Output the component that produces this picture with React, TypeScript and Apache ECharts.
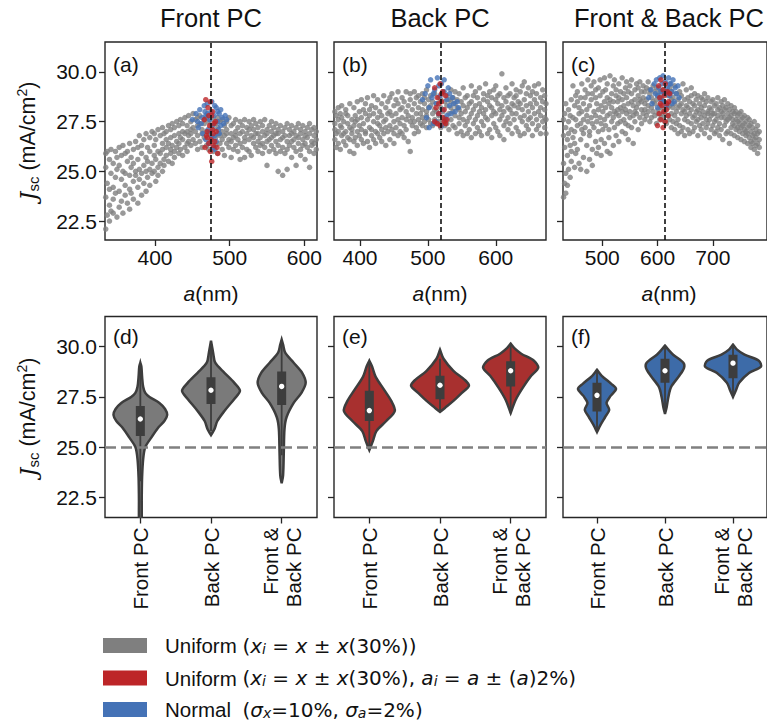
import React, { useEffect, useRef } from "react";
import * as echarts from "echarts";

// ---------------- data ----------------
const panelTitles = ["Front PC", "Back PC", "Front & Back PC"];
const panelLettersTop = ["(a)", "(b)", "(c)"];
const panelLettersBottom = ["(d)", "(e)", "(f)"];
const categories = ["Front PC", "Back PC", "Front &\nBack PC"];
const yTicks = [22.5, 25, 27.5, 30];
const xRanges = [
  [333, 617],
  [361.7, 674],
  [429, 798],
];
const xTicks = [
  [400, 500, 600],
  [400, 500, 600],
  [500, 600, 700, 800],
];
const designA = [475, 518.7, 613];
const thresholdJ = 25;

// gray scatter columns: [a, J, J, ...]
const grayA = [
  [334, 22.1, 23.7, 25.2, 25.9], [336, 22.8, 24.4, 26.0], [339, 23.3, 25.6, 24.1, 22.5],
  [341, 24.9, 23.0, 26.1], [344, 25.4, 22.9, 24.2, 23.6], [347, 26.0, 24.7, 23.9],
  [349, 22.7, 25.1, 25.7], [352, 24.0, 23.2, 26.2, 25.3], [355, 25.8, 24.6, 23.5],
  [357, 22.9, 25.0, 26.3], [360, 24.3, 25.9, 23.8, 24.9], [363, 25.5, 23.4, 26.0],
  [366, 24.1, 26.4, 24.8, 23.1], [368, 25.2, 23.9, 25.7], [371, 26.1, 24.5, 23.6, 25.4],
  [374, 24.8, 26.5, 25.0], [377, 23.4, 25.6, 24.2, 26.2], [379, 25.1, 26.8, 24.6],
  [382, 23.8, 25.9, 26.3, 24.9], [385, 26.6, 24.4, 25.3], [388, 25.7, 24.0, 26.9, 25.0],
  [390, 24.7, 26.2, 25.5], [393, 26.7, 25.1, 24.3, 26.0], [396, 25.4, 27.0, 24.9],
  [399, 26.3, 25.0, 25.8, 26.9], [401, 24.5, 26.6, 25.6], [404, 27.1, 25.2, 26.0, 24.8],
  [407, 25.9, 26.8, 25.4], [410, 26.4, 25.0, 27.2, 26.1], [412, 25.6, 26.9, 25.3],
  [415, 27.0, 26.2, 25.8, 26.6], [418, 25.5, 27.3, 26.4], [421, 26.7, 25.9, 26.1, 27.1],
  [423, 26.3, 25.4, 27.4], [426, 27.2, 26.0, 26.8, 25.7], [429, 26.5, 27.5, 26.2],
  [432, 25.9, 26.9, 27.3, 26.4], [434, 27.6, 26.1, 26.7], [437, 26.6, 27.4, 25.8, 27.0],
  [440, 26.2, 27.7, 26.9], [443, 27.3, 26.4, 27.0, 26.0], [445, 26.8, 27.8, 26.5],
  [448, 27.5, 26.3, 27.1, 26.9], [451, 26.6, 27.9, 27.2], [454, 27.0, 26.4, 27.6],
  [457, 27.7, 26.8, 27.3, 26.1], [460, 26.5, 27.4, 27.8], [463, 27.1, 26.2, 26.9],
  [466, 27.6, 26.7, 27.4], [469, 26.3, 27.0, 27.7], [472, 26.9, 26.1, 27.5],
  [475, 27.3, 26.5, 26.8], [478, 26.0, 27.6, 27.1], [481, 26.7, 27.4, 26.3],
  [484, 27.2, 25.9, 26.9, 27.7], [487, 26.4, 27.5, 26.8], [490, 27.0, 26.1, 27.6, 26.6],
  [493, 26.8, 27.3, 25.8], [496, 27.5, 26.4, 26.9, 27.1], [499, 26.2, 27.7, 26.6],
  [502, 26.9, 25.7, 27.3, 26.5], [505, 27.4, 26.7, 26.1], [508, 26.3, 27.0, 27.6, 26.8],
  [511, 27.2, 26.0, 26.6], [514, 25.6, 26.9, 27.5, 26.4], [517, 27.0, 26.2, 27.3],
  [520, 26.7, 27.6, 25.7, 26.5], [523, 26.1, 27.2, 26.9], [526, 27.5, 26.6, 26.0, 27.1],
  [529, 26.8, 25.8, 27.3], [532, 27.1, 26.4, 26.7, 27.6], [535, 26.2, 27.4, 26.9],
  [538, 26.9, 26.0, 27.2, 26.5], [541, 27.5, 26.7, 26.3], [544, 26.4, 27.0, 25.9, 27.3],
  [547, 26.8, 27.6, 26.2], [550, 27.1, 26.5, 25.3, 26.9], [553, 26.0, 27.3, 26.6],
  [556, 26.7, 27.5, 26.3, 27.0], [559, 27.2, 26.1, 26.8], [562, 26.5, 27.4, 25.9, 26.9],
  [565, 26.9, 26.3, 27.1, 25.0], [568, 27.3, 26.6, 26.0], [571, 26.2, 27.0, 26.7, 24.8],
  [574, 26.8, 25.9, 27.2], [577, 27.4, 26.5, 26.1, 25.1], [580, 26.3, 27.1, 26.8],
  [583, 26.9, 25.7, 27.3, 26.5], [586, 26.6, 27.0, 26.2], [589, 27.2, 25.3, 26.8, 26.0],
  [592, 26.4, 27.4, 26.7], [595, 26.1, 26.9, 27.1, 25.8], [598, 27.3, 26.6, 26.3],
  [601, 26.8, 25.6, 27.0, 26.4], [604, 26.2, 27.2, 26.7], [607, 26.9, 26.0, 27.4, 25.2],
  [610, 26.5, 27.1, 26.3], [613, 27.2, 25.9, 26.8, 26.4], [616, 26.1, 27.0, 26.6],
];
const blueA = [
  [455, 27.9], [450, 27.6], [460, 28.1], [462, 27.4], [466, 28.3], [468, 27.8], [470, 28.4],
  [471, 27.1], [473, 27.6], [475, 28.0], [476, 28.5], [477, 27.3], [479, 27.8], [480, 26.8],
  [482, 28.2], [484, 27.5], [486, 27.9], [488, 28.1], [490, 27.7], [492, 27.4], [494, 27.8],
  [496, 27.6], [458, 27.2], [464, 26.9], [468, 26.6], [472, 26.4], [478, 26.2], [482, 26.5],
  [486, 26.9], [474, 27.0], [470, 27.9], [467, 28.0], [480, 28.3], [484, 28.0], [488, 27.3],
  [463, 27.7], [457, 27.5], [476, 26.7], [480, 26.1], [485, 27.1],
];
const redA = [
  [468, 28.6], [471, 28.2], [474, 28.5], [466, 27.6], [476, 27.8], [479, 27.4], [470, 27.0],
  [473, 27.3], [477, 27.1], [481, 27.5], [469, 26.8], [475, 26.6], [478, 26.9], [472, 26.4],
  [467, 26.2], [480, 26.5], [474, 26.0], [483, 26.2], [476, 25.5], [470, 26.7], [478, 26.3],
  [482, 27.0], [484, 25.9], [472, 27.8], [477, 28.0],
];

const grayB = [
  [363, 27.4, 26.6, 28.0, 27.1], [365, 26.9, 27.8, 26.2], [368, 27.6, 26.4, 28.2, 27.0],
  [371, 26.1, 27.3, 27.9], [373, 27.7, 26.8, 27.2, 28.3], [376, 26.5, 27.5, 26.9],
  [379, 27.9, 27.0, 26.3, 28.1], [382, 26.7, 27.4, 27.8], [385, 27.2, 26.0, 28.4, 26.6],
  [388, 27.6, 26.9, 27.1], [391, 25.9, 27.3, 28.2, 26.5], [393, 27.8, 26.7, 27.5],
  [396, 26.3, 28.5, 27.0, 27.6], [399, 27.3, 26.8, 28.0], [402, 26.6, 27.7, 28.6, 27.1],
  [405, 28.1, 26.4, 27.4], [408, 27.0, 27.9, 26.9, 28.4], [411, 26.5, 27.6, 28.7],
  [414, 27.8, 26.2, 27.2, 28.1], [417, 27.1, 28.3, 26.8], [420, 26.6, 27.5, 28.8, 27.9],
  [423, 28.2, 27.0, 26.4], [426, 27.4, 28.6, 26.9, 27.7], [429, 26.7, 28.0, 27.3],
  [432, 28.4, 27.1, 26.5, 27.8], [435, 27.5, 28.8, 26.9], [438, 26.3, 27.6, 28.2, 27.2],
  [441, 28.5, 27.0, 27.9], [444, 27.3, 26.6, 28.7, 28.0], [447, 27.8, 28.9, 27.1],
  [450, 26.9, 28.3, 27.5, 26.4], [453, 28.6, 27.2, 27.9], [456, 27.6, 26.8, 28.4, 29.0],
  [459, 27.0, 28.1, 27.4], [462, 28.7, 27.7, 26.9, 28.2], [465, 27.3, 28.5, 26.7],
  [468, 28.0, 27.1, 29.0, 27.6], [471, 26.5, 28.3, 27.8], [474, 27.5, 26.0, 28.6, 28.9],
  [477, 28.1, 27.3, 27.7], [480, 26.9, 28.4, 27.5, 29.0], [483, 27.9, 28.7, 27.2],
  [486, 28.2, 27.0, 27.6, 28.8], [489, 27.4, 28.5, 27.9], [492, 28.9, 27.7, 28.1, 27.3],
  [495, 27.5, 28.4, 28.7], [498, 28.0, 27.2, 29.1, 27.8], [501, 27.6, 28.6, 28.2],
  [504, 28.3, 27.4, 28.8], [507, 27.9, 28.5, 27.3], [510, 28.1, 27.6, 28.9],
  [513, 27.4, 28.4, 28.0], [516, 28.7, 27.8, 27.5], [519, 27.2, 28.2, 28.6],
  [522, 28.0, 27.5, 29.0], [525, 27.7, 28.5, 27.3], [528, 28.3, 27.4, 28.8],
  [531, 27.1, 28.6, 27.9], [534, 28.2, 27.6, 29.1, 28.5], [537, 27.3, 28.0, 28.7],
  [540, 28.4, 27.2, 27.8, 29.0], [543, 26.9, 28.2, 28.6], [546, 27.7, 28.9, 27.4, 28.1],
  [549, 28.5, 27.0, 27.9], [552, 26.8, 28.3, 29.2, 27.6], [555, 28.0, 27.3, 28.7],
  [558, 27.5, 28.8, 26.9, 28.2], [561, 28.4, 27.1, 27.7], [564, 26.7, 27.9, 29.3, 28.5],
  [567, 28.1, 27.4, 28.8], [570, 27.6, 26.9, 28.3, 29.0], [573, 28.7, 27.8, 27.2],
  [576, 27.0, 28.4, 28.0, 29.2], [579, 28.2, 27.5, 26.8], [582, 28.9, 27.3, 28.6, 27.9],
  [585, 27.7, 29.4, 28.1], [588, 26.9, 28.5, 27.6, 28.8], [591, 28.3, 27.1, 29.0],
  [594, 27.8, 28.7, 26.7, 28.2], [597, 27.4, 29.1, 28.0], [600, 28.6, 27.2, 27.9, 29.3],
  [603, 27.0, 28.4, 28.8], [606, 28.1, 26.8, 27.6, 28.9], [609, 29.9, 27.8, 28.3],
  [612, 27.3, 28.7, 26.6, 28.0], [615, 28.5, 27.5, 29.2], [618, 27.1, 28.2, 28.8, 27.7],
  [621, 28.9, 27.4, 28.1], [624, 27.9, 26.9, 29.4, 28.4], [627, 28.3, 27.6, 28.7],
  [630, 27.2, 28.8, 27.9, 29.1], [633, 28.5, 27.0, 28.2], [636, 27.7, 29.0, 26.8, 28.4],
  [639, 28.1, 27.5, 29.3], [642, 26.9, 28.6, 27.8, 29.5], [645, 28.3, 27.3, 28.9],
  [648, 27.6, 29.2, 28.0, 27.1], [651, 28.8, 27.7, 28.4], [654, 27.4, 28.2, 26.8, 29.0],
  [657, 28.6, 27.9, 29.3], [660, 27.1, 28.4, 27.6, 28.9], [663, 28.0, 29.4, 27.3],
  [666, 27.8, 26.9, 28.7, 28.2], [669, 28.5, 27.5, 29.1], [672, 27.2, 28.1, 28.8, 27.7],
  [674, 28.4, 27.6, 26.9],
];
const blueB = [
  [492, 28.6], [496, 28.9], [498, 27.7], [500, 29.3], [502, 28.2], [504, 29.6], [506, 28.7],
  [508, 27.4], [510, 29.1], [512, 28.4], [514, 29.7], [516, 27.9], [518, 28.8], [520, 29.4],
  [522, 28.1], [524, 29.0], [526, 27.6], [528, 28.6], [530, 29.2], [532, 28.3], [534, 27.9],
  [536, 28.7], [538, 28.4], [540, 28.0], [543, 28.5], [545, 28.2], [502, 27.2], [512, 27.5],
  [520, 27.3], [528, 27.8], [516, 29.3], [524, 29.6], [508, 28.9], [532, 28.9],
];
const redB = [
  [510, 29.2], [518, 29.4], [522, 29.0], [514, 28.7], [520, 28.5], [526, 28.8], [512, 28.2],
  [516, 27.9], [524, 28.1], [528, 27.6], [510, 27.5], [518, 27.3], [522, 27.7], [514, 27.4],
  [526, 27.4], [520, 28.9], [516, 28.4], [524, 27.5],
];

const grayC = [
  [430, 23.7, 25.4, 27.6, 26.8], [432, 24.4, 26.2, 27.9], [434, 23.9, 24.9, 27.2, 28.4],
  [437, 25.8, 24.3, 26.6], [439, 26.9, 25.1, 28.1, 27.5], [442, 24.7, 27.8, 26.3],
  [444, 25.5, 28.6, 27.1, 26.0], [447, 29.3, 26.7, 27.7], [450, 25.2, 28.3, 27.0, 26.4],
  [452, 27.6, 28.8, 25.9], [455, 26.1, 27.3, 28.5, 29.0], [458, 25.4, 27.9, 28.2],
  [461, 28.7, 26.6, 27.4, 25.1], [463, 27.1, 29.4, 28.0], [466, 25.7, 28.4, 26.9, 27.6],
  [469, 29.1, 27.2, 28.7], [472, 26.3, 28.1, 25.0, 27.8], [474, 28.9, 27.5, 29.6],
  [477, 25.6, 28.3, 26.8, 27.0], [480, 28.6, 29.3, 27.7], [482, 26.1, 27.4, 28.9, 25.3],
  [485, 28.0, 29.5, 27.2], [488, 27.8, 26.5, 28.7, 29.1], [490, 25.9, 28.4, 27.5],
  [493, 29.2, 27.0, 28.1, 26.2], [496, 27.7, 28.8, 29.6], [498, 26.6, 28.3, 27.4, 25.8],
  [501, 29.0, 28.0, 27.1], [504, 27.6, 29.7, 28.5, 26.4], [506, 28.2, 27.3, 29.1],
  [509, 26.0, 28.7, 27.8, 29.4], [512, 28.4, 27.1, 26.7], [514, 29.8, 27.9, 28.6, 25.9],
  [517, 27.5, 28.9, 28.2], [520, 26.3, 29.3, 27.7, 28.5], [522, 28.0, 27.2, 29.6],
  [525, 28.8, 26.8, 27.9, 29.1], [528, 27.4, 28.5, 28.1], [530, 29.4, 27.8, 26.5, 28.7],
  [533, 28.2, 29.0, 27.5], [536, 27.0, 28.6, 29.7, 28.0], [539, 28.9, 27.6, 28.3],
  [542, 26.9, 29.2, 28.1, 27.4], [544, 28.7, 27.9, 29.5], [547, 27.3, 28.4, 26.6, 29.0],
  [550, 29.3, 28.0, 27.7], [553, 28.5, 27.2, 28.9, 29.6], [556, 27.8, 28.3, 26.4],
  [559, 29.1, 27.5, 28.6, 28.0], [562, 28.2, 29.4, 27.9], [565, 27.1, 28.8, 28.4, 29.2],
  [568, 28.6, 27.7, 29.5], [571, 29.0, 28.1, 27.4, 28.5], [574, 27.9, 29.3, 28.7],
  [577, 28.4, 27.6, 29.0, 28.1], [580, 29.2, 28.6, 27.8], [583, 28.0, 29.5, 28.3],
  [586, 27.5, 28.9, 29.1], [589, 28.7, 28.2, 27.7], [592, 29.3, 28.5, 28.0],
  [595, 27.8, 29.0, 28.4], [598, 28.6, 27.4, 29.2], [601, 28.1, 28.8, 27.9],
  [604, 29.0, 28.3, 27.6], [607, 27.7, 28.7, 28.2], [610, 28.5, 27.9, 29.1],
  [613, 28.0, 28.9, 27.5], [616, 27.4, 28.4, 29.0], [619, 28.8, 27.8, 28.2],
  [622, 28.3, 29.2, 27.6], [625, 27.9, 28.6, 27.2, 29.0], [628, 28.7, 27.5, 28.2],
  [631, 27.1, 28.4, 29.3, 27.8], [634, 28.9, 28.0, 27.4], [637, 27.6, 28.6, 26.9, 28.2],
  [640, 28.3, 27.3, 29.0], [643, 27.9, 28.8, 27.0, 28.4], [646, 27.2, 28.1, 29.4],
  [649, 28.6, 27.6, 28.0, 26.8], [652, 27.8, 29.1, 28.3], [655, 28.2, 27.1, 28.7, 27.5],
  [658, 26.9, 28.5, 27.9], [661, 28.8, 27.4, 28.1, 29.2], [664, 27.7, 28.4, 27.0],
  [667, 28.3, 27.2, 28.9, 27.8], [670, 27.5, 28.6, 28.0], [673, 28.1, 26.8, 27.6, 28.8],
  [676, 27.3, 28.4, 27.9], [679, 28.7, 27.7, 27.1, 28.2], [682, 27.4, 28.0, 28.6],
  [685, 28.3, 26.9, 27.8, 28.9], [688, 27.6, 28.5, 27.2], [691, 28.0, 27.4, 28.7, 27.9],
  [694, 26.7, 28.2, 27.6], [697, 28.5, 27.8, 27.1, 28.1], [700, 27.3, 28.6, 27.9],
  [703, 27.9, 26.9, 28.3, 27.5], [706, 28.4, 27.6, 27.0], [709, 27.2, 28.1, 28.7, 27.8],
  [712, 28.2, 27.4, 26.8], [715, 27.7, 28.5, 27.1, 28.0], [718, 26.6, 27.9, 28.3],
  [721, 28.1, 27.3, 27.7, 28.6], [724, 27.5, 28.2, 26.9], [727, 27.9, 27.0, 28.4, 27.6],
  [730, 26.4, 27.7, 28.1], [733, 27.8, 27.2, 28.3, 26.9], [736, 27.4, 28.0, 27.6],
  [739, 26.8, 27.9, 27.3, 28.2], [742, 27.6, 27.1, 28.0], [745, 27.2, 26.7, 27.8, 27.5],
  [748, 27.9, 27.0, 27.4], [751, 26.6, 27.6, 27.2, 28.0], [754, 27.3, 26.9, 27.7],
  [757, 27.8, 27.1, 26.5, 27.4], [760, 26.8, 27.5, 27.0], [763, 27.2, 26.4, 27.7, 26.9],
  [766, 26.7, 27.3, 27.6], [769, 27.0, 26.5, 27.4, 26.2], [772, 26.8, 27.2, 26.4],
  [775, 27.5, 26.6, 26.9, 26.1], [778, 26.3, 27.1, 26.7], [781, 26.9, 26.4, 27.3, 25.9],
  [784, 26.6, 27.0, 26.2],
];
const blueC = [
  [584, 28.7], [588, 29.1], [590, 28.4], [594, 29.4], [596, 28.9], [598, 29.6], [600, 28.2],
  [602, 29.2], [604, 29.7], [606, 28.6], [608, 29.4], [610, 29.8], [612, 28.9], [614, 29.5],
  [616, 28.3], [618, 29.2], [620, 29.7], [622, 28.8], [624, 29.4], [626, 29.0], [628, 29.6],
  [630, 28.5], [632, 29.2], [634, 28.9], [637, 29.3], [639, 28.7], [606, 29.0], [616, 29.0],
  [622, 29.4], [600, 28.8], [612, 28.5], [626, 28.4],
];
const redC = [
  [602, 29.3], [606, 29.6], [610, 29.1], [614, 29.4], [618, 29.0], [604, 28.7], [612, 28.8],
  [620, 28.5], [608, 28.3], [616, 28.1], [603, 27.9], [611, 28.0], [619, 27.8], [606, 27.6],
  [614, 27.5], [600, 27.3], [610, 27.2], [622, 28.9], [617, 28.4], [605, 28.4],
];

// violin profiles: [J, half-width in category-band units]
const violinGray = [
  [[29.2, 0], [29.0, 0.015], [28.5, 0.025], [28.0, 0.04], [27.7, 0.07], [27.5, 0.13], [27.2, 0.27], [26.9, 0.35], [26.6, 0.38], [26.3, 0.34], [26.0, 0.26], [25.5, 0.16], [25.0, 0.07], [24.4, 0.04], [23.5, 0.025], [22.5, 0.02], [21.0, 0.015]],
  [[30.3, 0], [30.0, 0.015], [29.7, 0.03], [29.2, 0.06], [28.7, 0.19], [28.2, 0.33], [27.8, 0.41], [27.4, 0.33], [26.8, 0.19], [26.3, 0.09], [25.9, 0.05], [25.6, 0]],
  [[30.35, 0], [30.1, 0.02], [29.7, 0.05], [29.2, 0.17], [28.7, 0.29], [28.2, 0.34], [27.7, 0.28], [27.2, 0.17], [26.5, 0.07], [25.9, 0.04], [24.7, 0.03], [23.6, 0.02], [23.2, 0]],
];
const violinRed = [
  [[29.3, 0], [29.0, 0.04], [28.5, 0.09], [27.85, 0.21], [27.3, 0.31], [26.8, 0.36], [26.3, 0.24], [25.8, 0.1], [25.3, 0.05], [24.85, 0]],
  [[29.85, 0], [29.4, 0.05], [28.8, 0.19], [28.35, 0.35], [28.05, 0.41], [27.7, 0.31], [27.3, 0.19], [26.95, 0.07], [26.75, 0]],
  [[30.15, 0], [29.9, 0.06], [29.65, 0.15], [29.3, 0.33], [28.95, 0.39], [28.55, 0.29], [27.95, 0.17], [27.35, 0.07], [26.7, 0]],
];
const violinBlue = [
  [[28.85, 0], [28.55, 0.07], [28.15, 0.21], [27.9, 0.28], [27.55, 0.2], [27.2, 0.14], [26.85, 0.18], [26.5, 0.12], [26.1, 0.05], [25.75, 0]],
  [[30.05, 0], [29.85, 0.05], [29.6, 0.12], [29.2, 0.27], [28.95, 0.28], [28.55, 0.21], [28.0, 0.09], [27.5, 0.05], [27.0, 0.025], [26.65, 0]],
  [[30.1, 0], [29.85, 0.06], [29.6, 0.17], [29.3, 0.38], [29.0, 0.41], [28.7, 0.24], [28.2, 0.09], [27.8, 0.04], [27.5, 0]],
];
// box stats: [q1, q3, median, whiskerLow, whiskerHigh]
const boxGray = [
  [25.55, 27.05, 26.4, 23.3, 29.1],
  [27.15, 28.48, 27.83, 25.8, 30.2],
  [27.1, 28.76, 28.02, 24.6, 30.3],
];
const boxRed = [
  [26.3, 27.8, 26.82, 24.9, 29.2],
  [27.38, 28.55, 28.08, 26.8, 29.4],
  [28.02, 29.27, 28.8, 26.7, 30.1],
];
const boxBlue = [
  [26.77, 28.2, 27.58, 25.8, 28.8],
  [28.2, 29.4, 28.8, 26.7, 30.0],
  [28.43, 29.6, 29.18, 27.55, 30.05],
];

const legendLabels = [
  "Uniform {m|(}{mi|x}{sub|i}{m| = }{mi|x}{m| ± }{mi|x}{m|(30%))}",
  "Uniform {m|(}{mi|x}{sub|i}{m| = }{mi|x}{m| ± }{mi|x}{m|(30%), }{mi|a}{sub|i}{m| = }{mi|a}{m| ± (}{mi|a}{m|)2%)}",
  "Normal  {m|(}{mi|σ}{sub|x}{m|=10%, }{mi|σ}{sub|a}{m|=2%)}",
];

// ---------------- styles / layout ----------------
const FONT = "'Liberation Sans', Arial, Helvetica, sans-serif";
const MFONT = "'DejaVu Sans', sans-serif";
const C_GRAY = "#7f7f7f";
const C_RED = "#bd2528";
const C_BLUE = "#4472b6";
const V_GRAY = "#7a7a7a";
const V_RED = "#a8302f";
const V_BLUE = "#3d6ba8";
const OUTLINE = "#3d3d3d";
const FRAME = "#262626";
const TXT = "#111";

const panelLefts = [105, 334, 563];
const panelW = 212;
const topY = 42, topH = 198;
const botY = 316.5, botH = 201;

const toPoints = (cols: number[][]) =>
  cols.flatMap(([x, ...ys]) => ys.map((y) => [x, y]));

function violinRender(profiles: number[][][], boxes: number[][], fill: string) {
  return (params: any, api: any) => {
    const idx = api.value(0);
    const prof = profiles[idx];
    const box = boxes[idx];
    const bw = api.size([1, 0])[0];
    const cx = api.coord([idx, 25])[0];
    const right: number[][] = [];
    const left: number[][] = [];
    prof.forEach(([j, w]: number[]) => {
      const y = api.coord([idx, j])[1];
      right.push([cx + w * bw, y]);
      left.push([cx - w * bw, y]);
    });
    const pts = right.concat(left.reverse());
    const yq1 = api.coord([idx, box[0]])[1];
    const yq3 = api.coord([idx, box[1]])[1];
    const ym = api.coord([idx, box[2]])[1];
    const ylo = api.coord([idx, box[3]])[1];
    const yhi = api.coord([idx, box[4]])[1];
    return {
      type: "group",
      children: [
        {
          type: "polygon",
          shape: { points: pts, smooth: 0.3 },
          style: { fill, stroke: OUTLINE, lineWidth: 2.5 },
        },
        {
          type: "line",
          shape: { x1: cx, y1: yhi, x2: cx, y2: ylo },
          style: { stroke: OUTLINE, lineWidth: 1.8 },
        },
        {
          type: "rect",
          shape: { x: cx - 4.5, y: yq3, width: 9, height: yq1 - yq3 },
          style: { fill: OUTLINE },
        },
        {
          type: "circle",
          shape: { cx, cy: ym, r: 2.7 },
          style: { fill: "#fff" },
        },
      ],
    };
  };
}

export default function App() {
  const ref = useRef<HTMLDivElement>(null);
  useEffect(() => {
    if (!ref.current) return;
    const chart = echarts.init(ref.current, null, { renderer: "svg" });

    const grids: any[] = [];
    const xAxes: any[] = [];
    const yAxes: any[] = [];
    const series: any[] = [];
    const tickLabelStyle = { fontFamily: FONT, fontSize: 21, color: TXT };

    for (let i = 0; i < 6; i++) {
      const col = i % 3;
      const isTop = i < 3;
      grids.push({
        left: panelLefts[col],
        top: isTop ? topY : botY,
        width: panelW,
        height: isTop ? topH : botH,
        show: true,
        borderColor: FRAME,
        borderWidth: 1.4,
        backgroundColor: "transparent",
        containLabel: false,
      });
      yAxes.push({
        type: "value",
        gridIndex: i,
        min: isTop ? 21.55 : 21.5,
        max: 31.5,
        axisLine: { show: false },
        splitLine: { show: false },
        axisTick: { show: true, length: 6, customValues: yTicks, lineStyle: { color: FRAME, width: 1.3 } },
        axisLabel: {
          show: col === 0,
          customValues: yTicks,
          formatter: (v: number) => v.toFixed(1),
          margin: 8,
          ...tickLabelStyle,
        },
      });
      if (isTop) {
        xAxes.push({
          type: "value",
          gridIndex: i,
          min: xRanges[col][0],
          max: xRanges[col][1],
          axisLine: { show: false },
          splitLine: { show: false },
          axisTick: { show: true, length: 6, customValues: xTicks[col], lineStyle: { color: FRAME, width: 1.3 } },
          axisLabel: { customValues: xTicks[col], margin: 7, ...tickLabelStyle },
        });
      } else {
        xAxes.push({
          type: "category",
          gridIndex: i,
          data: categories,
          axisLine: { show: false },
          splitLine: { show: false },
          axisTick: { show: true, alignWithLabel: true, length: 6, lineStyle: { color: FRAME, width: 1.3 } },
          axisLabel: { rotate: 90, margin: 10, lineHeight: 23, interval: 0, fontFamily: FONT, fontSize: 20.5, color: TXT },
        });
      }
    }

    const grays = [grayA, grayB, grayC];
    const blues = [blueA, blueB, blueC];
    const reds = [redA, redB, redC];
    for (let c = 0; c < 3; c++) {
      series.push({
        type: "scatter",
        xAxisIndex: c,
        yAxisIndex: c,
        data: toPoints(grays[c]),
        symbolSize: 5.5,
        itemStyle: { color: C_GRAY },
        clip: true,
        markLine: {
          silent: true,
          symbol: "none",
          label: { show: false },
          z: 10,
          lineStyle: { color: "#111", type: [5, 3], width: 1.6 },
          data: [{ xAxis: designA[c] }],
        },
      });
      series.push({
        type: "scatter",
        xAxisIndex: c,
        yAxisIndex: c,
        data: blues[c],
        symbolSize: 5.5,
        itemStyle: { color: C_BLUE },
        clip: true,
      });
      series.push({
        type: "scatter",
        xAxisIndex: c,
        yAxisIndex: c,
        data: reds[c],
        symbolSize: 5.5,
        itemStyle: { color: C_RED },
        clip: true,
      });
    }
    const vProfiles = [violinGray, violinRed, violinBlue];
    const vBoxes = [boxGray, boxRed, boxBlue];
    const vFills = [V_GRAY, V_RED, V_BLUE];
    for (let c = 0; c < 3; c++) {
      series.push({
        type: "custom",
        xAxisIndex: 3 + c,
        yAxisIndex: 3 + c,
        clip: true,
        data: [[0, 25], [1, 25], [2, 25]],
        encode: { x: 0, y: 1 },
        renderItem: violinRender(vProfiles[c], vBoxes[c], vFills[c]),
        markLine: {
          silent: true,
          symbol: "none",
          label: { show: false },
          z: 10,
          lineStyle: { color: "#808080", type: [11, 5], width: 2.6 },
          data: [{ yAxis: thresholdJ }],
        },
      });
    }

    const graphic: any[] = [];
    for (let c = 0; c < 3; c++) {
      const cx = panelLefts[c] + panelW / 2;
      graphic.push({
        type: "text",
        x: cx,
        y: 18,
        style: { text: panelTitles[c], fontFamily: FONT, fontSize: 25.5, fill: TXT, align: "center", verticalAlign: "middle" },
      });
      graphic.push({
        type: "text",
        x: cx,
        y: 293,
        style: {
          text: "{i|a}(nm)",
          fontFamily: FONT,
          fontSize: 21,
          fill: TXT,
          align: "center",
          verticalAlign: "middle",
          rich: { i: { fontFamily: FONT, fontSize: 21, fontStyle: "italic", fill: TXT } },
        },
      });
      graphic.push({
        type: "text",
        x: panelLefts[c] + 8,
        y: 64,
        style: { text: panelLettersTop[c], fontFamily: FONT, fontSize: 21, fill: TXT, align: "left", verticalAlign: "middle" },
      });
      graphic.push({
        type: "text",
        x: panelLefts[c] + 8,
        y: 336,
        style: { text: panelLettersBottom[c], fontFamily: FONT, fontSize: 21, fill: TXT, align: "left", verticalAlign: "middle" },
      });
    }
    const yLabelRich = {
      j: { fontFamily: "'DejaVu Serif', serif", fontSize: 22, fontStyle: "italic", fill: TXT, lineHeight: 26 },
      sub: { fontFamily: FONT, fontSize: 15, fill: TXT, lineHeight: 14, verticalAlign: "bottom" },
      sup: { fontFamily: FONT, fontSize: 14, fill: TXT, lineHeight: 14, verticalAlign: "top" },
    };
    [topY + topH / 2, botY + botH / 2].forEach((yc) => {
      graphic.push({
        type: "text",
        x: 28,
        y: yc,
        rotation: Math.PI / 2,
        style: {
          text: "{j|J}{sub|sc} (mA/cm{sup|2})",
          fontFamily: FONT,
          fontSize: 21.5,
          lineHeight: 26,
          fill: TXT,
          align: "center",
          verticalAlign: "middle",
          rich: yLabelRich,
        },
      });
    });
    const legendColors = [C_GRAY, C_RED, C_BLUE];
    const legendY = [645.5, 678, 709.5];
    legendLabels.forEach((lab, k) => {
      graphic.push({
        type: "rect",
        shape: { x: 103, y: legendY[k] - 7.5, width: 44, height: 15 },
        style: { fill: legendColors[k] },
      });
      graphic.push({
        type: "text",
        x: 165,
        y: legendY[k],
        style: {
          text: lab,
          fontFamily: FONT,
          fontSize: 20.5,
          lineHeight: 20,
          fill: TXT,
          align: "left",
          verticalAlign: "middle",
          rich: {
            m: { fontFamily: MFONT, fontSize: 20, fill: TXT, lineHeight: 20 },
            mi: { fontFamily: MFONT, fontSize: 20, fontStyle: "italic", fill: TXT, lineHeight: 20 },
            sub: { fontFamily: MFONT, fontSize: 14, fontStyle: "italic", fill: TXT, lineHeight: 10, verticalAlign: "bottom" },
          },
        },
      });
    });

    chart.setOption({
      animation: false,
      backgroundColor: "#fff",
      textStyle: { fontFamily: FONT },
      grid: grids,
      xAxis: xAxes,
      yAxis: yAxes,
      series,
      graphic,
    });
    return () => chart.dispose();
  }, []);

  return (
    <div
      ref={ref}
      style={{ position: "absolute", left: 0, top: 0, width: 767, height: 721 }}
    />
  );
}
